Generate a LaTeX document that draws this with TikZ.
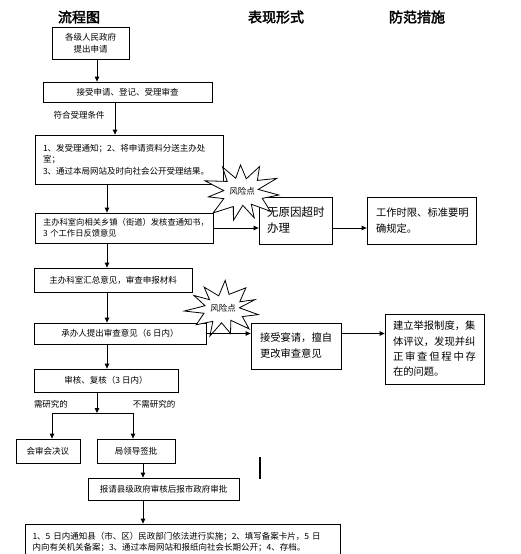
\documentclass[tikz,border=0pt]{standalone}
\usepackage{fontspec}
\setmainfont{Noto Sans CJK SC}
\newfontfamily\headfont[FakeBold=2.5]{Noto Sans CJK SC}
\usetikzlibrary{arrows.meta}

\begin{document}
\begin{tikzpicture}[
    x=1pt, y=-1pt,
    font=\fontsize{8.5}{11.5}\selectfont,
    >={Triangle[length=5pt,width=4.5pt]},
    blk/.style={draw, line width=0.8pt, align=center, inner sep=2pt},
    txtblk/.style={draw, line width=0.8pt, align=left, inner xsep=8pt},
    bigblk/.style={draw, line width=0.8pt, align=left, inner xsep=8pt,
                   font=\fontsize{10.3}{16}\selectfont},
    head/.style={font=\headfont\fontsize{14}{16}\selectfont},
    lab/.style={inner sep=1pt},
    sig/.style={->, line width=0.8pt},
    rstar/.style={draw, line width=0.8pt, fill=white},
  ]
  \clip (0,0) rectangle (521,554);
  \fill[white] (0,0) rectangle (521,554);

  %% ---- column headings -------------------------------------------------
  \node[head] (h1) at ( 79,17) {流程图};
  \node[head] (h2) at (276,17) {表现形式};
  \node[head] (h3) at (417,17) {防范措施};

  %% ---- main flow ------------------------------------------------------
  \node[blk, minimum width=77, minimum height=32] (apply) at (90.5,43)
    {各级人民政府\\提出申请};
  \node[blk, minimum width=169, minimum height=20] (accept) at (127.5,92)
    {接受申请、登记、受理审查};
  \node[lab] (cond) at (79,115) {符合受理条件};
  \node[txtblk, text width=172, minimum height=49] (notice) at (129,159.5)
    {1、发受理通知；2、将申请资料分送主办处\\室；\\3、通过本局网站及时向社会公开受理结果。};
  \node[txtblk, text width=162, minimum height=30,
        font=\fontsize{8.3}{10.5}\selectfont] (verify) at (124,228)
    {主办科室向相关乡镇（街道）发核查通知书，\\3 个工作日反馈意见};
  \node[blk, minimum width=158, minimum height=24] (summ) at (113,280)
    {主办科室汇总意见，审查申报材料};
  \node[blk, minimum width=172, minimum height=21] (opin) at (120,333.5)
    {承办人提出审查意见（6 日内）};
  \node[blk, minimum width=144, minimum height=23] (review) at (106,380.5)
    {审核、复核（3 日内）};
  \node[lab] (need)   at ( 51,404) {需研究的};
  \node[lab] (noneed) at (154,404) {不需研究的};
  \node[blk, minimum width=64, minimum height=24] (meet) at (48,451)
    {会审会决议};
  \node[blk, minimum width=78, minimum height=24] (lead) at (136,451)
    {局领导签批};
  \node[blk, minimum width=151, minimum height=22] (city) at (163.5,489)
    {报请县级政府审核后报市政府审批};
  \node[txtblk, text width=300, inner xsep=7.5pt, minimum height=36] (done)
    at (182.5,542)
    {1、5 日内通知县（市、区）民政部门依法进行实施；2、填写备案卡片，5 日\\
     内向有关机关备案；3、通过本局网站和报纸向社会长期公开；4、存档。};

  %% ---- risks and measures (right) -------------------------------------
  \node[bigblk, text width=57, minimum height=47,
        font=\fontsize{11.5}{16}\selectfont] (late) at (295.5,220.5)
    {无原因超时\\办理};
  \node[bigblk, text width=91, inner xsep=9pt, minimum height=47] (rule)
    at (421.5,220.5) {工作时限、标准要明\\确规定。};
  \node[bigblk, text width=72, inner xsep=9pt, minimum height=46] (bribe)
    at (296,346) {接受宴请，擅自\\更改审查意见};
  \node[bigblk, text width=83, minimum height=70,
        font=\fontsize{10.3}{15.3}\selectfont] (report) at (434.5,349)
    {建立举报制度，集\\体评议，发现并纠\\
     \makebox[\linewidth]{正\hfill 审\hfill 查\hfill 但\hfill 程\hfill 中\hfill 存}\\
     在的问题。};

  %% ---- risk stars -----------------------------------------------------
  \begin{scope}[shift={(242,192)}]
    \draw[rstar] plot[samples at={0,...,21}]
      (\x*360/22+6:{37-18*mod(\x,2)+3*sin(\x*97)} and {29-14*mod(\x,2)+2*sin(\x*61)})
      -- cycle;
  \end{scope}
  \begin{scope}[shift={(223,309)}]
    \draw[rstar] plot[samples at={0,...,21}]
      (\x*360/22+12:{36-17*mod(\x,2)+3*sin(\x*83)} and {27-13*mod(\x,2)+2*sin(\x*71)})
      -- cycle;
  \end{scope}
  \node[lab] (risk1) at (242,191) {风险点};
  \node[lab] (risk2) at (223,308) {风险点};

  %% ---- connectors -----------------------------------------------------
  \coordinate (c1) at ( 97,0);
  \coordinate (c2) at (115,0);
  \coordinate (c3) at (107,0);
  \coordinate (c4) at (143,0);
  \coordinate (fork) at ( 97,413);
  \coordinate (fl)   at ( 52,413);
  \coordinate (fr)   at (133,413);

  \draw[sig] (apply.south -| c1)  -- (accept.north -| c1);
  \draw[sig] (accept.south -| c2) -- (notice.north -| c2);
  \draw[sig] (notice.south -| c3) -- (verify.north -| c3);
  \draw[sig] (verify.south -| c3) -- (summ.north -| c3);
  \draw[sig] (summ.south -| c3)   -- (opin.north -| c3);
  \draw[sig] (opin.south -| c3)   -- (review.north -| c3);
  \draw[sig] (review.south -| fork) -- (fork);
  \draw[sig] (fork) -- (fl) -- (fl |- meet.north);
  \draw[sig] (fork) -- (fr) -- (fr |- lead.north);
  \draw[sig] (lead.south -| c4) -- (city.north -| c4);
  \draw[sig] (city.south -| c4) -- (done.north -| c4);

  \draw[sig] (verify.east) -- (verify.east -| late.west);
  \draw[sig] (late.east |- verify.east) -- (verify.east -| rule.west);
  \draw[sig] (opin.east) -- (opin.east -| bribe.west);
  \draw[sig] (bribe.east |- opin.east) -- (opin.east -| report.west);

  \draw[line width=2pt] (260,457) -- (260,479);

\end{tikzpicture}
\end{document}
